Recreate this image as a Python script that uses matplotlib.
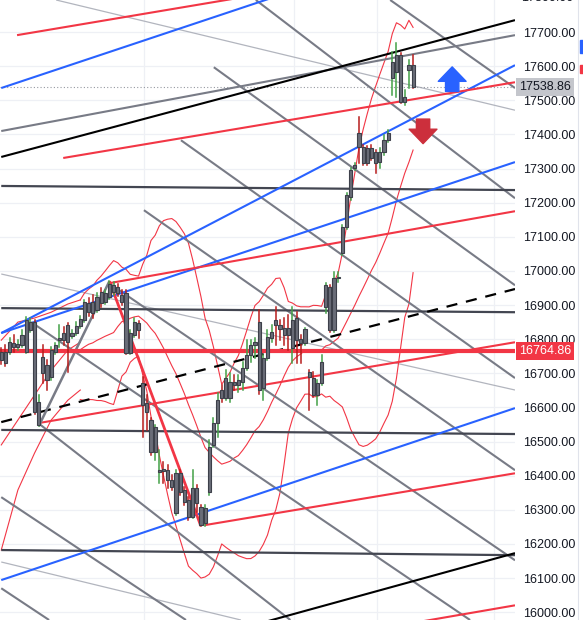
import numpy as np
import pandas as pd
import matplotlib
matplotlib.use("Agg")
import matplotlib.pyplot as plt
import matplotlib.transforms as mtransforms
from matplotlib.patches import Rectangle

# candles, one per session
opens = [16762, 16762, 16762, 16788, 16777, 16783, 16762, 16827, 16850, 16548,
         16747, 16724, 16689, 16762, 16797, 16818, 16841, 16809, 16818, 16838,
         16856, 16906, 16909, 16885, 16938, 16909, 16923, 16938, 16953, 16929,
         16935, 16759, 16812, 16847, 16671, 16613, 16563, 16469, 16410, 16419,
         16416, 16387, 16290, 16408, 16358, 16328, 16278, 16364, 16308, 16261,
         16352, 16490, 16554, 16651, 16627, 16627, 16674, 16665, 16674, 16715,
         16753, 16783, 16850, 16657, 16745, 16803, 16856, 16841, 16833, 16833,
         16774, 16862, 16800, 16788, 16704, 16686, 16636, 16671, 16894, 16953,
         16827, 16979, 17053, 17128, 17216, 17301, 17404, 17363, 17360, 17360,
         17348, 17319, 17348, 17383, 17565, 17583, 17633, 17495, 17589, 17603]
highs = [16774, 16783, 16803, 16812, 16797, 16827, 16865, 16862, 16856, 16636,
         16783, 16739, 16777, 16788, 16841, 16835, 16847, 16827, 16850, 16868,
         16915, 16920, 16929, 16935, 16950, 16944, 16970, 16967, 16962, 16944,
         16944, 16827, 16862, 16853, 16689, 16636, 16569, 16548, 16475, 16440,
         16431, 16402, 16416, 16416, 16367, 16337, 16416, 16373, 16314, 16314,
         16504, 16569, 16642, 16665, 16709, 16701, 16695, 16695, 16733, 16797,
         16797, 16803, 16885, 16753, 16827, 16841, 16894, 16856, 16862, 16871,
         16894, 16879, 16812, 16833, 16709, 16704, 16680, 16753, 16964, 16958,
         16997, 16997, 17134, 17228, 17301, 17316, 17451, 17369, 17366, 17369,
         17354, 17360, 17398, 17413, 17641, 17668, 17638, 17530, 17618, 17633]
lows = [16727, 16721, 16756, 16762, 16768, 16777, 16759, 16821, 16580, 16545,
        16671, 16651, 16680, 16756, 16777, 16783, 16704, 16803, 16812, 16833,
        16850, 16868, 16862, 16879, 16894, 16903, 16917, 16929, 16926, 16900,
        16756, 16756, 16806, 16803, 16513, 16534, 16460, 16446, 16378, 16378,
        16364, 16358, 16284, 16343, 16314, 16270, 16276, 16293, 16252, 16252,
        16343, 16484, 16513, 16616, 16621, 16616, 16651, 16645, 16651, 16709,
        16733, 16745, 16640, 16621, 16739, 16791, 16783, 16797, 16783, 16768,
        16730, 16730, 16730, 16783, 16592, 16630, 16607, 16665, 16876, 16821,
        16821, 16967, 17047, 17123, 17208, 17296, 17316, 17310, 17310, 17325,
        17287, 17301, 17340, 17378, 17515, 17510, 17492, 17486, 17536, 17536]
closes = [16739, 16730, 16791, 16777, 16786, 16812, 16856, 16850, 16586, 16616,
          16701, 16680, 16768, 16783, 16803, 16797, 16791, 16818, 16838, 16859,
          16909, 16879, 16876, 16923, 16906, 16935, 16961, 16958, 16935, 16909,
          16759, 16818, 16850, 16827, 16607, 16586, 16469, 16542, 16416, 16413,
          16387, 16367, 16408, 16352, 16322, 16278, 16364, 16319, 16255, 16305,
          16484, 16554, 16621, 16627, 16686, 16674, 16665, 16680, 16715, 16753,
          16783, 16791, 16651, 16745, 16806, 16821, 16841, 16830, 16812, 16812,
          16856, 16797, 16788, 16830, 16689, 16636, 16671, 16733, 16958, 16827,
          16979, 16982, 17128, 17222, 17296, 17310, 17363, 17316, 17316, 17331,
          17316, 17348, 17383, 17404, 17612, 17633, 17495, 17510, 17603, 17538.86]

last_price = 17538.86
level_price = 16764.86
price_ticks = list(range(16000, 17800, 100))

# bollinger values for the first bars (earlier data is off-screen)
bb_head_x = [0, 4, 8, 12, 16, 19]
bb_head_upper = [16797, 16850, 16862, 16879, 16903, 16915]
bb_head_mid = [16490, 16563, 16636, 16709, 16768, 16791]
bb_head_lower = [16182, 16358, 16466, 16563, 16621, 16651]

# drawn lines: (x0, y0, x1, y1) in bar index / price
red_lines = [(3.8, 17691, 57, 17800), (14.9, 17331, 123.5, 17553),
             (25.9, 16964, 123.5, 17175), (8.9, 16554, 123.5, 16791),
             (48.9, 16255, 123.5, 16407), (95, 15960, 123.5, 16020)]
blue_lines = [(0, 17536, 80, 17861), (0, 16818, 123.5, 17603),
              (0, 16818, 123.5, 17319), (0, 16094, 123.5, 16598)]
black_lines = [(0, 17334, 123.5, 17735), (60, 15960, 123.5, 16173)]
grey_up_lines = [(0, 17410, 123.5, 17691)]
flat_lines = [(0, 17249, 123.5, 17237), (0, 16891, 123.5, 16879),
              (0, 16534, 123.5, 16522), (0, 16182, 123.5, 16167)]
fan_lines = [(93.5, 17794, 123.5, 17536), (61.2, 17794, 123.5, 17213),
             (51.1, 17597, 123.5, 16958), (43.2, 17383, 123.5, 16686),
             (34.3, 17178, 123.5, 16416), (25.9, 16964, 123.5, 16152),
             (7.2, 16850, 112.7, 15977), (8.9, 16554, 69.5, 15977),
             (0, 16337, 44.4, 15977), (0, 16070, 11.5, 15977)]
thin_lines = [(13.2, 17794, 123.5, 17471), (0, 16991, 123.5, 16651),
              (0, 16147, 57.6, 15977)]
dashed_line = (0, 16557, 123.5, 16947)
zigzag_up = (9, 16545, 26, 16970)
zigzag_down = (26, 16970, 48, 16252)

fig = plt.figure(figsize=(5.83, 6.2), dpi=100)
ax = fig.add_axes([0, 0, 515 / 583, 1])
ax.set_xlim(-0.3, 123.5)
ax.set_ylim(15977, 17794)

for p in price_ticks:
    ax.axhline(p, color="#eef0f5", lw=0.9, zorder=0)
for gx in [34.3, 70.3, 90.4, 118.5]:
    ax.axvline(gx, color="#eef0f5", lw=0.9, zorder=0)

def seg(l, **kw):
    ax.plot([l[0], l[2]], [l[1], l[3]], solid_capstyle="butt", **kw)

# bollinger bands (20, 2)
s = pd.Series(closes)
mid = s.rolling(20).mean()
sd = s.rolling(20).std(ddof=0)
idx = np.arange(len(closes))
for head, band in [(bb_head_mid, mid), (bb_head_upper, mid + 2 * sd),
                   (bb_head_lower, mid - 2 * sd)]:
    ax.plot(bb_head_x, head, color="#f23645", lw=0.8, zorder=2)
    ax.plot(idx[19:], band[19:], color="#f23645", lw=0.8, zorder=2)

for l in thin_lines:
    seg(l, color="#b2b5be", lw=0.9, zorder=1)
for l in fan_lines:
    seg(l, color="#787b86", lw=1.5, zorder=3)
for l in flat_lines:
    seg(l, color="#434651", lw=1.6, zorder=3)
for l in grey_up_lines:
    seg(l, color="#787b86", lw=1.5, zorder=3)
for l in black_lines:
    seg(l, color="black", lw=1.5, zorder=3)
for l in blue_lines:
    seg(l, color="#2962ff", lw=1.5, zorder=3)
for l in red_lines:
    seg(l, color="#f23645", lw=1.5, zorder=3)
seg(dashed_line, color="black", lw=1.6, ls=(0, (5, 4)), zorder=3)
seg(zigzag_up, color="#787b86", lw=1.8, zorder=4)
seg(zigzag_down, color="#f23645", lw=2.0, zorder=4)
ax.axhline(level_price, color="#f23645", lw=3.0, zorder=4)
ax.axhline(last_price, color="#9598a1", lw=0.8, ls=(0, (1, 2)), zorder=2)

# candles
for i, (o, h, lo, c) in enumerate(zip(opens, highs, lows, closes)):
    wick = "#43a047" if c >= o else "#b71c1c"
    ax.plot([i, i], [lo, h], color=wick, lw=1.1, zorder=5)
    ax.add_patch(Rectangle((i - 0.38, min(o, c)), 0.76, max(abs(c - o), 2),
                           facecolor="#6a6d78", edgecolor="#3d404a",
                           lw=0.8, zorder=6))

# arrows
ax.annotate("", xy=(108.4, 17598), xytext=(108.4, 17526),
            arrowprops=dict(arrowstyle="simple,head_width=1.25,head_length=0.65,tail_width=0.6",
                            mutation_scale=16, color="#2962ff", shrinkA=0, shrinkB=0),
            zorder=7)
ax.annotate("", xy=(101.4, 17373), xytext=(101.4, 17445),
            arrowprops=dict(arrowstyle="simple,head_width=1.25,head_length=0.65,tail_width=0.6",
                            mutation_scale=16, color="#cc2f3c", shrinkA=0, shrinkB=0),
            zorder=7)

# right price scale
ax.yaxis.tick_right()
ax.set_yticks(price_ticks)
ax.set_yticklabels([f"{p:.2f}" for p in price_ticks])
ax.tick_params(axis="y", length=0, pad=6, labelsize=9, labelcolor="#131722")
for lab in ax.get_yticklabels():
    lab.set_family("Liberation Sans")
ax.set_xticks([])
for sp in ax.spines.values():
    sp.set_visible(False)

tr = mtransforms.blended_transform_factory(ax.transAxes, ax.transData)
ax.text(1.0 + 6 / 515, 17800, "17800.00", transform=tr, fontsize=9,
        family="Liberation Sans", color="#131722", va="center", clip_on=False)
ax.text(1.0 + 4 / 515, last_price, f"{last_price:.2f}", transform=tr, fontsize=9,
        family="Liberation Sans", color="#131722", va="center",
        bbox=dict(boxstyle="square,pad=0.25", fc="#c4c6cc", ec="none"), zorder=8)
ax.text(1.0 + 4 / 515, level_price, f"{level_price:.2f}", transform=tr, fontsize=9,
        family="Liberation Sans", color="white", va="center",
        bbox=dict(boxstyle="square,pad=0.25", fc="#f23645", ec="none"), zorder=8)

fig.add_artist(plt.Line2D([578 / 583, 578 / 583], [0, 1], color="#e0e3eb", lw=0.8))
fig.add_artist(Rectangle((580 / 583, 1 - 53 / 620), 3 / 583, 13 / 620, color="#2962ff"))
fig.add_artist(Rectangle((580 / 583, 1 - 73 / 620), 3 / 583, 8 / 620, color="#f23645"))

fig.savefig("out.png", dpi=100)
